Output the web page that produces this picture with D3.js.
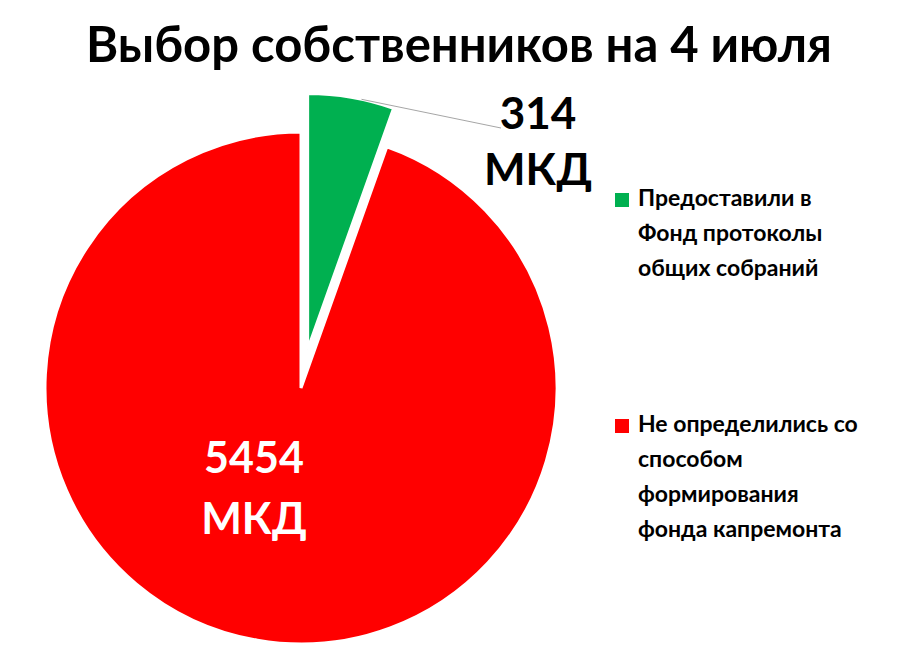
<!DOCTYPE html>
<html>
<head>
<meta charset="utf-8">
<style>
body { margin: 0; background: #fff; }
svg text { font-family: Lato, "Open Sans", sans-serif; font-weight: bold; }
</style>
</head>
<body>
<div id="container"></div>
<script src="https://cdn.jsdelivr.net/npm/d3@7"></script>
<script>
const width = 901;
const height = 659;

const title = 'Выбор собственников на 4 июля';
const categories = ['Предоставили в Фонд протоколы общих собраний',
                    'Не определились со способом формирования фонда капремонта'];
const values = [314, 5454];
const sliceLabels = [['314', 'МКД'], ['5454', 'МКД']];
const legendLines = [['Предоставили в', 'Фонд протоколы', 'общих собраний'],
                     ['Не определились со', 'способом', 'формирования', 'фонда капремонта']];
const colors = ['#00b050', '#ff0000'];

const cx = 301, cy = 388, r = 256;
const explode = 39;

const svg = d3.select('#container').append('svg')
    .attr('width', width).attr('height', height);

svg.append('text')
    .attr('x', 459).attr('y', 62)
    .attr('text-anchor', 'middle')
    .style('font-size', '49px')
    .text(title);

const color = d3.scaleOrdinal().domain(categories).range(colors);

const pie = d3.pie().sort(null).value(d => d.value);
const arcs = pie(categories.map((c, i) => ({name: c, value: values[i], i: i})));
const arc = d3.arc().innerRadius(0).outerRadius(r);

const g = svg.append('g').attr('transform', `translate(${cx},${cy})`);

function offset(d) {
    if (d.index !== 0) return [0, 0];
    const a = (d.startAngle + d.endAngle) / 2;
    return [Math.sin(a) * explode, -Math.cos(a) * explode];
}

g.selectAll('.slice')
    .data(arcs)
  .enter().append('path')
    .attr('class', 'slice')
    .attr('transform', d => `translate(${offset(d)})`)
    .attr('fill', d => color(d.data.name))
    .attr('stroke', '#fff')
    .attr('stroke-width', 3)
    .attr('d', arc);

// leader line for the small slice
const small = arcs[0];
const o = offset(small);
const la = small.startAngle + (small.endAngle - small.startAngle) * 0.62;
const p0 = [o[0] + Math.sin(la) * r, o[1] - Math.cos(la) * r];
g.append('line')
    .attr('x1', p0[0]).attr('y1', p0[1])
    .attr('x2', 501 - cx).attr('y2', 128 - cy)
    .attr('stroke', '#a6a6a6').attr('stroke-width', 1);

const lbl = svg.append('text')
    .attr('text-anchor', 'middle')
    .style('font-size', '44px')
    .attr('fill', '#000');
lbl.selectAll('tspan').data(sliceLabels[0]).enter().append('tspan')
    .attr('x', 538).attr('y', (d, i) => 129 + i * 56)
    .text(d => d);

const lbl2 = svg.append('text')
    .attr('text-anchor', 'middle')
    .style('font-size', '43px')
    .attr('fill', '#fff');
lbl2.selectAll('tspan').data(sliceLabels[1]).enter().append('tspan')
    .attr('x', 254).attr('y', (d, i) => 473 + i * 61)
    .text(d => d);

// legend
const legendY = [206, 432];
const legend = svg.selectAll('.legend')
    .data(categories)
  .enter().append('g')
    .attr('class', 'legend')
    .attr('transform', (d, i) => `translate(615,${legendY[i]})`);

legend.append('rect')
    .attr('x', 0).attr('y', -13)
    .attr('width', 14).attr('height', 14)
    .attr('fill', d => color(d));

legend.append('text')
    .style('font-size', '23px')
    .selectAll('tspan')
    .data((d, i) => legendLines[i])
  .enter().append('tspan')
    .attr('x', 23).attr('y', (d, i) => i * 35)
    .text(d => d);
</script>
</body>
</html>
